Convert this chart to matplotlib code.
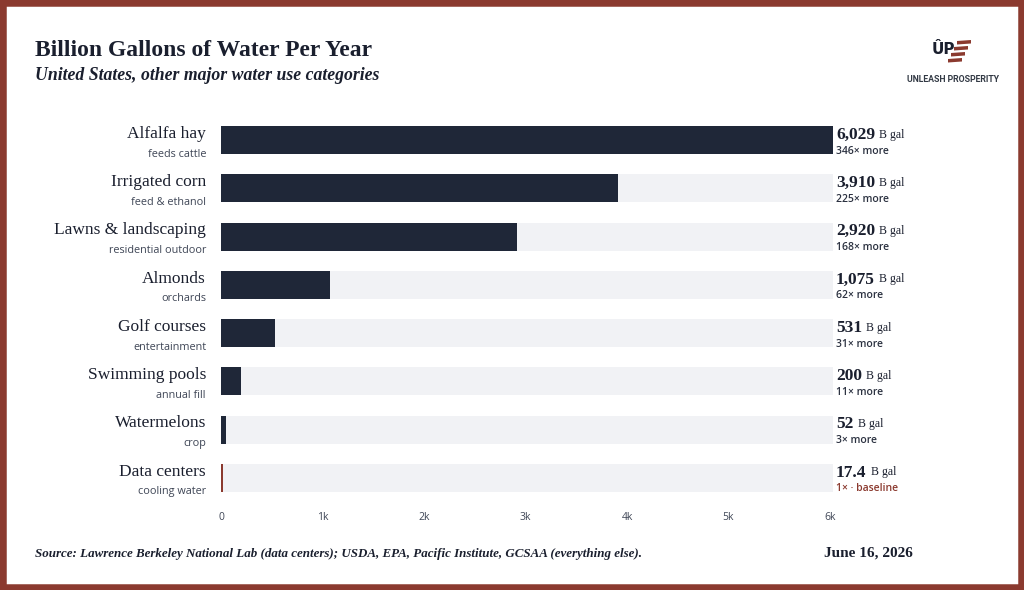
import matplotlib.pyplot as plt
import matplotlib.transforms as mtransforms
from matplotlib.patches import Rectangle, Polygon

categories = ["Alfalfa hay", "Irrigated corn", "Lawns & landscaping", "Almonds",
              "Golf courses", "Swimming pools", "Watermelons", "Data centers"]
sublabels = ["feeds cattle", "feed & ethanol", "residential outdoor", "orchards",
             "entertainment", "annual fill", "crop", "cooling water"]
values = [6029, 3910, 2920, 1075, 531, 200, 52, 17.4]
value_labels = ["6,029", "3,910", "2,920", "1,075", "531", "200", "52", "17.4"]
ratio_labels = ["346× more", "225× more", "168× more", "62× more",
                "31× more", "11× more", "3× more", "1× · baseline"]
xticks = [0, 1000, 2000, 3000, 4000, 5000, 6000]
xtick_labels = ["0", "1k", "2k", "3k", "4k", "5k", "6k"]

NAVY = "#1f2738"
TRACK = "#f1f2f5"
RED = "#8b3a2f"
TEXT = "#1a1f2e"
GREY = "#3f4656"
SERIF = "Liberation Serif"
SANS = "Open Sans"

W, H = 1024, 590
fig = plt.figure(figsize=(W / 100, H / 100), dpi=100, facecolor="white")

# frame border
fig.patches.append(Rectangle((0, 0), 1, 1, transform=fig.transFigure,
                             fill=False, edgecolor=RED, linewidth=9, zorder=10))

# axes placed by pixel layout
left, right, top, bottom = 221, 833, 116, 502
ax = fig.add_axes([left / W, 1 - bottom / H, (right - left) / W, (bottom - top) / H])
n = len(categories)
rows = list(range(n))
maxv = max(values)
ax.barh(rows, [maxv] * n, height=0.58, color=TRACK, zorder=1)
colors = [NAVY] * (n - 1) + [RED]
ax.barh(rows, values, height=0.58, color=colors, zorder=2)
ax.set_xlim(0, maxv)
ax.set_ylim(n - 0.5, -0.5)
ax.set_xticks(xticks)
ax.set_xticklabels(xtick_labels, fontsize=7.5, color=GREY, family=SANS)
ax.tick_params(axis="x", length=0, pad=7.5)
ax.set_yticks([])
for s in ax.spines.values():
    s.set_visible(False)

trans = mtransforms.blended_transform_factory(fig.transFigure, ax.transData)
for i in rows:
    ax.text(206 / W, i - 0.13, categories[i], transform=trans, ha="right", va="center",
            fontsize=12.5, family=SERIF, color=TEXT)
    ax.text(206 / W, i + 0.29, sublabels[i], transform=trans, ha="right", va="center",
            fontsize=7.8, family=SANS, color=GREY)
    t = ax.text(836 / W, i - 0.11, value_labels[i], transform=trans, ha="left", va="center",
                fontsize=12.5, family=SERIF, weight="bold", color=TEXT)
    ax.annotate("B gal", xy=(1, 0), xycoords=t, xytext=(3, 1.5), textcoords="offset points",
                ha="left", va="bottom", fontsize=8.5, family=SERIF, color=TEXT)
    ax.text(836 / W, i + 0.23, ratio_labels[i], transform=trans, ha="left", va="center",
            fontsize=7.5, family=SANS, color=RED if i == n - 1 else "#2b3140",
            weight="semibold")

# titles
fig.text(35 / W, 1 - 56 / H, "Billion Gallons of Water Per Year", fontsize=17,
         family=SERIF, weight="bold", color=TEXT)
fig.text(35 / W, 1 - 80 / H, "United States, other major water use categories",
         fontsize=12.8, family=SERIF, style="italic", weight="bold", color=TEXT)

# footer
fig.text(35 / W, 1 - 557 / H,
         "Source: Lawrence Berkeley National Lab (data centers); USDA, EPA, Pacific Institute, GCSAA (everything else).",
         fontsize=9.35, family=SERIF, style="italic", weight="bold", color=TEXT)
fig.text(913 / W, 1 - 557 / H, "June 16, 2026", fontsize=11, family=SERIF,
         weight="bold", color=TEXT, ha="right")

# logo
fig.text(943 / W, 1 - 50 / H, "ÛP", fontsize=11, family="DejaVu Sans", weight="bold",
         color=TEXT, ha="center", va="center")
for k in range(4):
    y0 = 41 + k * 6
    x0 = 957 - k * 3
    pts = [(x0 / W, 1 - y0 / H), ((x0 + 14) / W, 1 - (y0 - 1) / H),
           ((x0 + 14) / W, 1 - (y0 + 2.5) / H), (x0 / W, 1 - (y0 + 3.5) / H)]
    fig.patches.append(Polygon(pts, closed=True, transform=fig.transFigure,
                               facecolor=RED, edgecolor="none"))
fig.text(953 / W, 1 - 80 / H, "UNLEASH PROSPERITY", fontsize=6.3, family="Roboto",
         weight="bold", color="#333a45", ha="center", va="center")

fig.savefig("out.png", dpi=100, facecolor="white")
